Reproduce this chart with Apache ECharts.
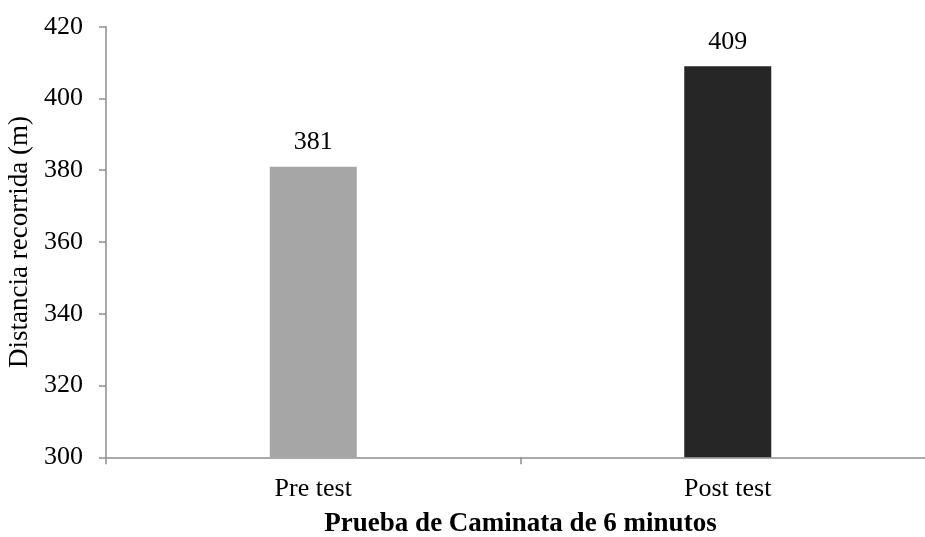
<!DOCTYPE html>
<html>
<head>
<meta charset="utf-8">
<script src="https://cdn.jsdelivr.net/npm/echarts@6/dist/echarts.min.js"></script>
<style>
  html, body { margin: 0; padding: 0; background: #ffffff; }
  #chart { width: 925px; height: 537px; }
</style>
</head>
<body>
<div id="chart"></div>
<script>
// Six-minute walk test: distance walked before and after
const categories = ['Pre test', 'Post test'];
const distances = [381, 409];
const barColors = ['#a6a6a6', '#262626'];
const yTicks = { min: 300, max: 420, step: 20 };

const font = '"Liberation Serif", "Times New Roman", serif';
const axisGray = '#8e8e8e';

const chart = echarts.init(document.getElementById('chart'));
chart.setOption({
  backgroundColor: '#ffffff',
  animation: false,
  grid: {
    left: 106, top: 26.7, width: 829, bottom: 79.7,
    containLabel: false, outerBoundsMode: 'none'
  },
  xAxis: {
    type: 'category',
    data: categories,
    name: 'Prueba de Caminata de 6 minutos',
    nameLocation: 'middle',
    nameGap: 53,
    nameTextStyle: { fontFamily: font, fontSize: 27, fontWeight: 'bold', color: '#000' },
    axisLine: { lineStyle: { color: axisGray, width: 1.5 } },
    axisTick: { show: true, length: 7, lineStyle: { color: axisGray, width: 1.5 } },
    axisLabel: { fontFamily: font, fontSize: 26, color: '#000', margin: 19 },
    splitLine: { show: false }
  },
  yAxis: {
    type: 'value',
    min: yTicks.min,
    max: yTicks.max,
    interval: yTicks.step,
    name: 'Distancia recorrida (m)',
    nameLocation: 'middle',
    nameGap: 65,
    nameTextStyle: { fontFamily: font, fontSize: 27, color: '#000' },
    axisLine: { show: true, lineStyle: { color: axisGray, width: 1.5 } },
    axisTick: { show: true, length: 7, lineStyle: { color: axisGray, width: 1.5 } },
    axisLabel: { fontFamily: font, fontSize: 26, color: '#000', margin: 23 },
    splitLine: { show: false }
  },
  series: [{
    type: 'bar',
    barWidth: 87,
    data: distances.map((v, i) => ({ value: v, itemStyle: { color: barColors[i] } })),
    label: {
      show: true,
      position: 'top',
      distance: 11,
      fontFamily: font,
      fontSize: 26,
      color: '#000'
    }
  }]
});
</script>
</body>
</html>
